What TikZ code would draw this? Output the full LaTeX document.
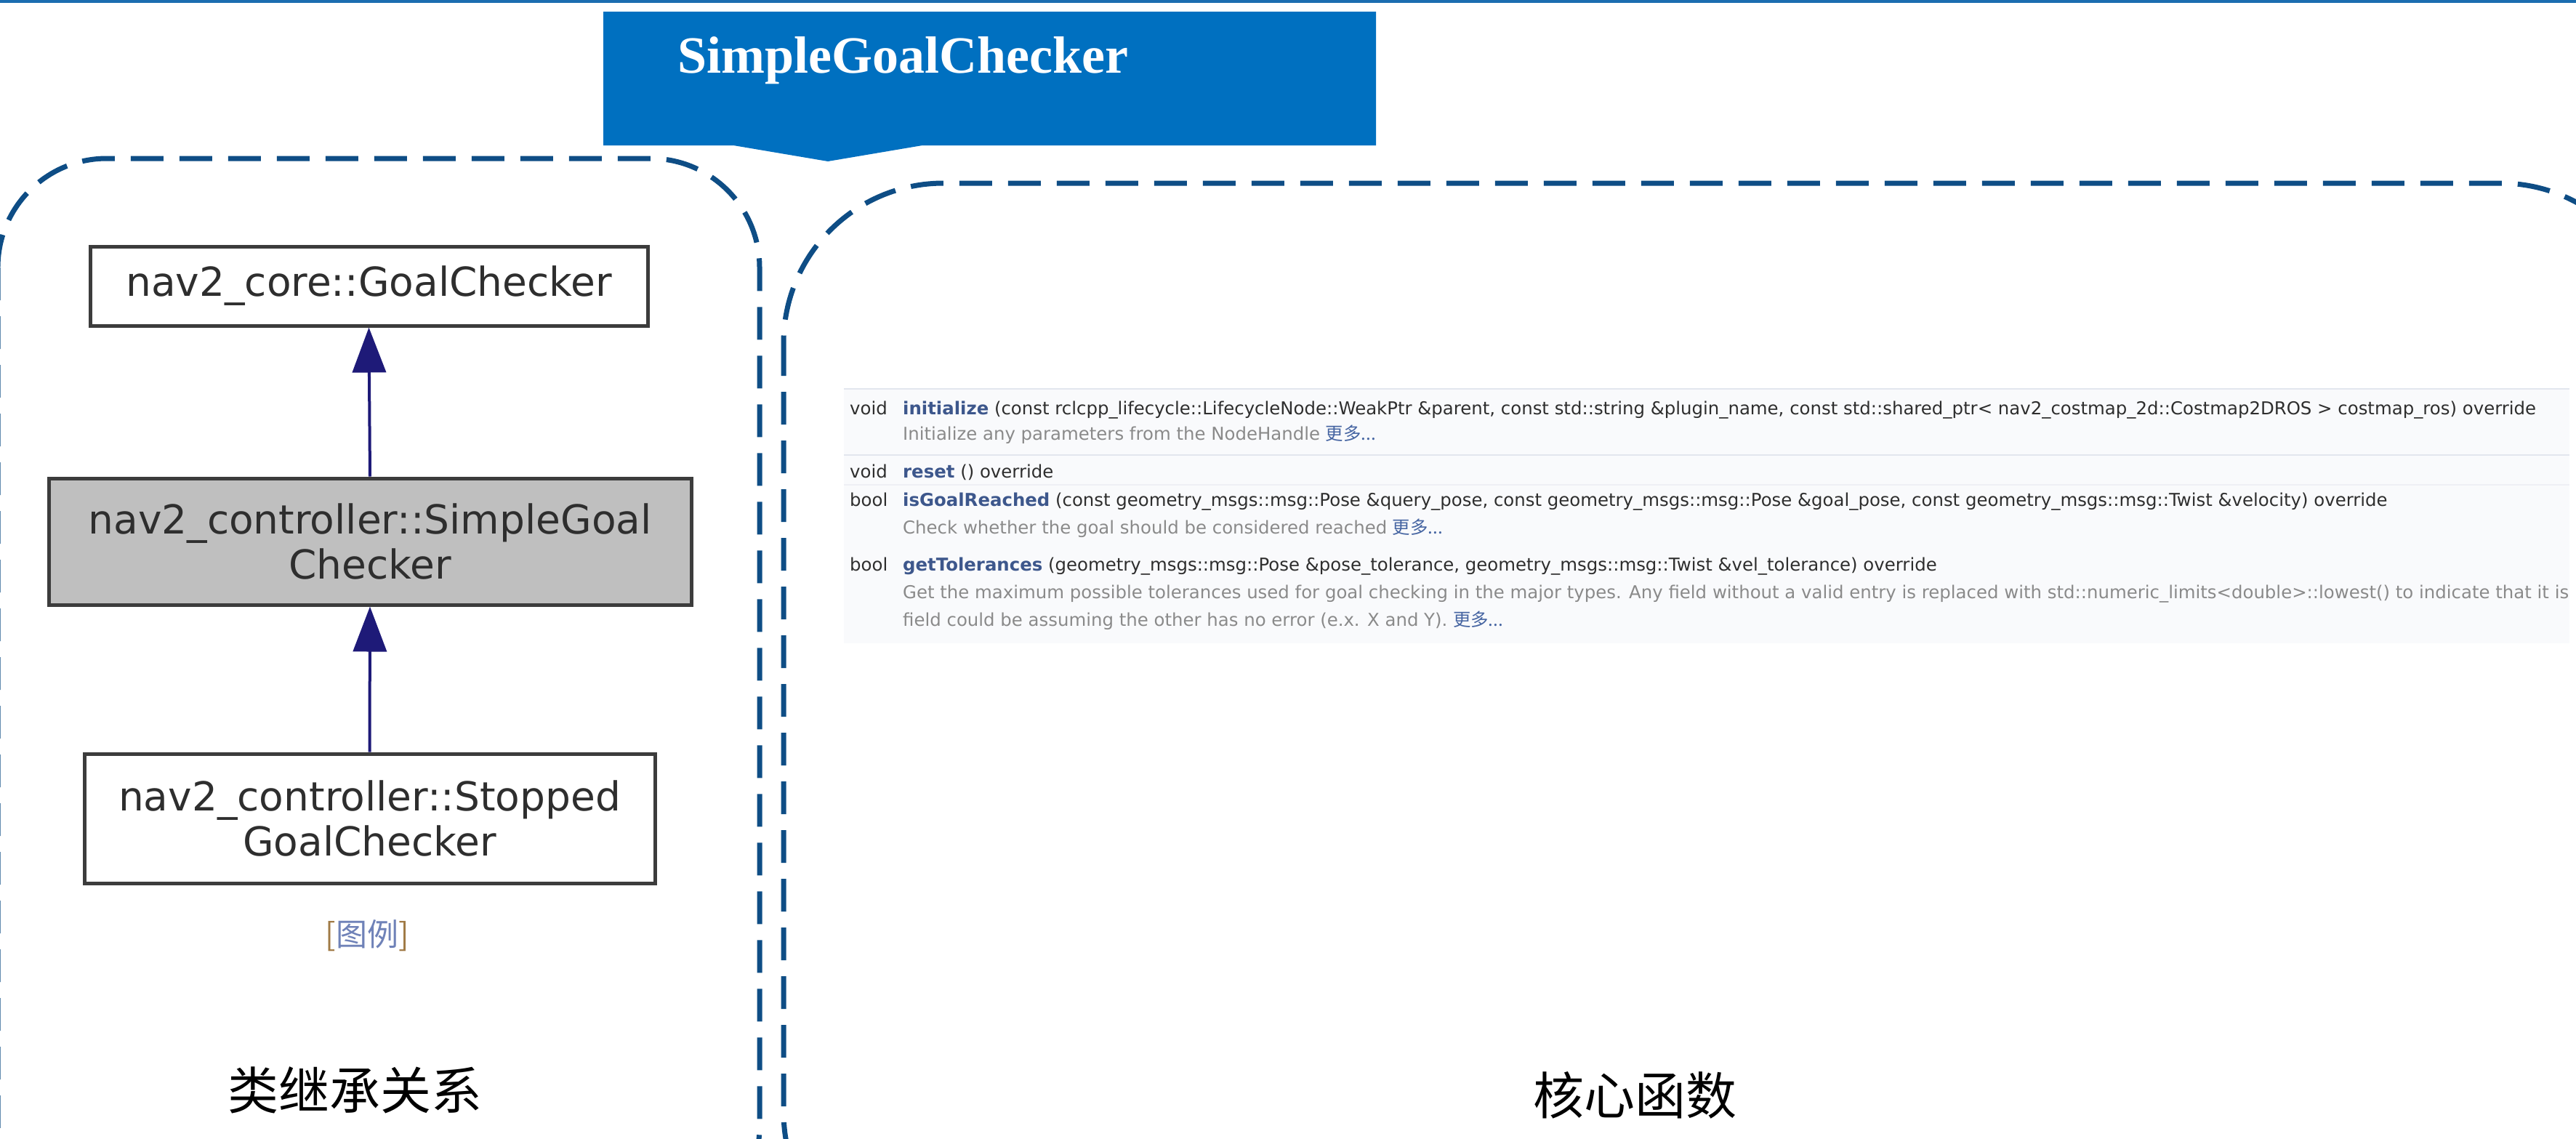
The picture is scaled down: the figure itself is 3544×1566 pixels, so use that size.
\documentclass[tikz,border=0pt]{standalone}
\usepackage{fontspec}
\usetikzlibrary{arrows.meta}
\setmainfont{DejaVu Sans}
\newfontfamily\cjk{Noto Sans CJK SC}
\newfontfamily\bannerfont{Liberation Serif}
\definecolor{topblue}{HTML}{1B6DB0}
\definecolor{bannerblue}{HTML}{0070C0}
\definecolor{groupblue}{HTML}{0E4D85}
\definecolor{boxborder}{HTML}{3C3C3C}
\definecolor{boxgray}{HTML}{BFBFBF}
\definecolor{navyline}{HTML}{1E1A78}
\definecolor{memtext}{HTML}{2E2E2E}
\definecolor{descgray}{HTML}{8A8A8A}
\definecolor{fnblue}{HTML}{3D578C}
\definecolor{linkblue}{HTML}{4665A2}
\definecolor{panelbg}{HTML}{F9FAFC}
\definecolor{panelline}{HTML}{E2E6EE}
\definecolor{bracketbrown}{HTML}{A07A45}
\definecolor{legendblue}{HTML}{6F82B8}
\tikzset{
  groupline/.style={draw=groupblue, line width=7pt, dash pattern=on 45pt off 22pt},
  classbox/.style={draw=boxborder, line width=5pt, inner sep=0pt, align=center,
    text=black!82, font=\fontsize{55}{62}\selectfont},
  inherit/.style={draw=navyline, line width=4pt, -{Triangle[length=62pt,width=46pt]}},
  mem/.style={anchor=base west, inner sep=0pt, text=memtext, font=\fontsize{24.4}{29}\selectfont},
  desc/.style={mem, text=descgray},
  cjklabel/.style={inner sep=0pt, text=black, font=\cjk\fontsize{70}{80}\selectfont}
}
\begin{document}
\begin{tikzpicture}[x=1pt,y=-1pt]
\useasboundingbox (0,0) rectangle (3544,1566);
\clip (0,0) rectangle (3544,1566);
\fill[white] (0,0) rectangle (3544,1566);
\fill[topblue] (0,0) rectangle (3544,4);
% banner
\fill[bannerblue] (830,16) -- (1893,16) -- (1893,200) -- (1269,200) -- (1139,222) -- (1009,200) -- (830,200) -- cycle;
\node[anchor=base west, inner sep=0pt, text=white, font=\bannerfont\bfseries\fontsize{72}{80}\selectfont] (title) at (932,100) {SimpleGoalChecker};
% dashed group frames
\draw[groupline, rounded corners=150pt] (-3,218) rectangle (1045,1700);
\draw[groupline, rounded corners=220pt] (1078,252) rectangle (3660,1750);
% class hierarchy
\node[classbox, minimum width=767pt, minimum height=109pt] (base) at (507.5,393.5) {nav2\_core::GoalChecker};
\node[classbox, fill=boxgray, minimum width=884pt, minimum height=174pt] (simple) at (509,745) {nav2\_controller::SimpleGoal\\Checker};
\node[classbox, minimum width=785pt, minimum height=178pt] (stopped) at (508.5,1126) {nav2\_controller::Stopped\\GoalChecker};
\draw[inherit] (simple.north) -- (base.south);
\draw[inherit] (stopped.north) -- (simple.south);
\node[inner sep=0pt, font=\cjk\fontsize{43}{50}\selectfont] (legend) at (505,1287) {{\color{bracketbrown}[}{\color{legendblue}图例}{\color{bracketbrown}]}};
\node[cjklabel] (lbl1) at (488,1500) {类继承关系};
% member panel
\fill[panelbg] (1161,535) rectangle (3535,885);
\draw[panelline, line width=2.5pt] (1161,535) -- (3535,535);
\draw[panelline, line width=2.5pt] (1161,626) -- (3535,626);
\draw[panelline!60, line width=2pt] (1161,667) -- (3535,667);
\node[mem] (t1) at (1169,570) {void};
\node[mem] (f1) at (1242,570) {{\bfseries\color{fnblue}initialize} (const rclcpp\_lifecycle::LifecycleNode::WeakPtr \&parent, const std::string \&plugin\_name, const std::shared\_ptr< nav2\_costmap\_2d::Costmap2DROS > costmap\_ros) override};
\node[desc] (d1) at (1242,605) {Initialize any parameters from the NodeHandle {\color{linkblue}\cjk 更多...}};
\node[mem] (t2) at (1169,657) {void};
\node[mem] (f2) at (1242,657) {{\bfseries\color{fnblue}reset} () override};
\node[mem] (t3) at (1169,696) {bool};
\node[mem] (f3) at (1242,696) {{\bfseries\color{fnblue}isGoalReached} (const geometry\_msgs::msg::Pose \&query\_pose, const geometry\_msgs::msg::Pose \&goal\_pose, const geometry\_msgs::msg::Twist \&velocity) override};
\node[desc] (d3) at (1242,734) {Check whether the goal should be considered reached {\color{linkblue}\cjk 更多...}};
\node[mem] (t4) at (1169,785) {bool};
\node[mem] (f4) at (1242,785) {{\bfseries\color{fnblue}getTolerances} (geometry\_msgs::msg::Pose \&pose\_tolerance, geometry\_msgs::msg::Twist \&vel\_tolerance) override};
\node[desc] (d4a) at (1242,823) {Get the maximum possible tolerances used for goal checking in the major types. Any field without a valid entry is replaced with std::numeric\_limits<double>::lowest() to indicate that it is};
\node[desc] (d4b) at (1242,861) {field could be assuming the other has no error (e.x. X and Y). {\color{linkblue}\cjk 更多...}};
\node[cjklabel] (lbl2) at (2249,1507) {核心函数};
\end{tikzpicture}
\end{document}
